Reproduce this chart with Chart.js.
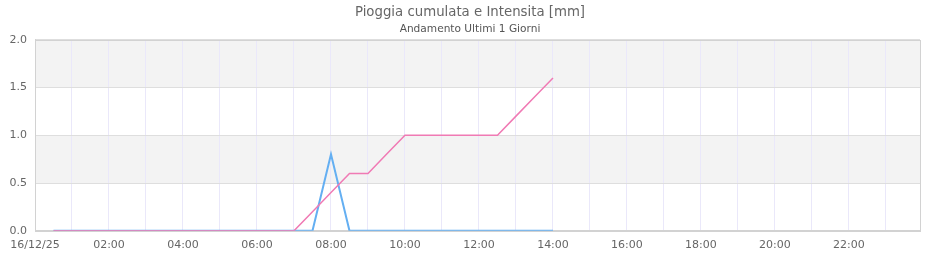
<!DOCTYPE html>
<html>
<head>
<meta charset="utf-8">
<script src="https://cdn.jsdelivr.net/npm/chart.js@4/dist/chart.umd.min.js"></script>
<style>
  html, body { margin: 0; padding: 0; background: #fff; }
</style>
</head>
<body>
<canvas id="grafico" width="940" height="260"></canvas>
<script>
// Dati: campioni ogni 30 minuti
const orari = ['00:30', '01:00', '01:30', '02:00', '02:30', '03:00', '03:30', '04:00', '04:30', '05:00',
    '05:30', '06:00', '06:30', '07:00', '07:30', '08:00', '08:30', '09:00', '09:30', '10:00',
    '10:30', '11:00', '11:30', '12:00', '12:30', '13:00', '13:30', '14:00'];
const pioggiaCumulata = [0, 0, 0, 0, 0, 0, 0, 0, 0, 0,
    0, 0, 0, 0, 0.2, 0.4, 0.6, 0.6, 0.8, 1.0,
    1.0, 1.0, 1.0, 1.0, 1.0, 1.2, 1.4, 1.6];
const intensita = [0, 0, 0, 0, 0, 0, 0, 0, 0, 0,
    0, 0, 0, 0, 0, 0.8, 0, 0, 0, 0,
    0, 0, 0, 0, 0, 0, 0, 0];
const primaEtichetta = '16/12/25';
const titolo = 'Pioggia cumulata e Intensita [mm]';
const sottotitolo = 'Andamento Ultimi 1 Giorni';

// conversione "hh:mm" -> ore decimali
function inOre(s) {
    const p = s.split(':');
    return parseInt(p[0]) + parseInt(p[1]) / 60;
}
function punti(valori) {
    return valori.map(function (v, i) { return { x: inOre(orari[i]), y: v }; });
}

// bande alternate grigie dietro la griglia + bordo
const bande = {
    id: 'bande',
    beforeDraw(chart) {
        const ctx = chart.ctx;
        const a = chart.chartArea;
        const y = chart.scales.y;
        ctx.save();
        ctx.fillStyle = 'rgb(243,243,243)';
        [[1.5, 2.0], [0.5, 1.0]].forEach(function (b) {
            const top = y.getPixelForValue(b[1]);
            const bot = y.getPixelForValue(b[0]);
            ctx.fillRect(a.left, top, a.right - a.left, bot - top);
        });
        ctx.restore();
    },
    afterDatasetsDraw(chart) {
        const ctx = chart.ctx;
        const a = chart.chartArea;
        ctx.save();
        ctx.strokeStyle = 'rgb(210,210,210)';
        ctx.lineWidth = 1;
        ctx.strokeRect(Math.round(a.left) + 0.5, Math.round(a.top) + 0.5,
            Math.round(a.right - a.left), Math.round(a.bottom - a.top));
        ctx.restore();
    }
};

const font = { family: 'DejaVu Sans', size: 11 };

new Chart(document.getElementById('grafico'), {
    type: 'line',
    data: {
        datasets: [{
            label: 'Pioggia cumulata',
            data: punti(pioggiaCumulata),
            borderColor: 'rgb(240,122,180)',
            borderWidth: 1.5,
            pointRadius: 0,
            tension: 0
        }, {
            label: 'Intensita',
            data: punti(intensita),
            borderColor: 'rgb(100,175,242)',
            borderWidth: 2,
            pointRadius: 0,
            tension: 0
        }]
    },
    options: {
        responsive: false,
        animation: false,
        devicePixelRatio: 1,
        layout: { padding: { left: 10, right: 10, top: 0, bottom: 0 } },
        plugins: {
            legend: { display: false },
            tooltip: { enabled: false },
            title: {
                display: true,
                text: titolo,
                color: '#666',
                font: { family: 'DejaVu Sans', size: 13.3, weight: 'normal' },
                padding: { top: 5, bottom: 2 }
            },
            subtitle: {
                display: true,
                text: sottotitolo,
                color: '#555',
                font: { family: 'DejaVu Sans', size: 10.6 },
                padding: { top: 0, bottom: 4 }
            }
        },
        scales: {
            x: {
                type: 'linear',
                min: 0,
                max: 23.92,
                grid: { color: 'rgb(234,232,250)', drawTicks: false },
                border: { color: 'rgb(210,210,210)' },
                ticks: {
                    stepSize: 1,
                    autoSkip: false,
                    maxRotation: 0,
                    includeBounds: false,
                    padding: 8,
                    color: '#666',
                    font: font,
                    callback: function (v) {
                        if (v === 0) return primaEtichetta;
                        if (v % 2 !== 0) return '';
                        return (v < 10 ? '0' : '') + v + ':00';
                    }
                }
            },
            y: {
                min: 0,
                max: 2,
                afterFit: function (scale) { scale.width = 25; },
                grid: { color: 'rgb(222,222,222)', drawTicks: false },
                border: { color: 'rgb(210,210,210)' },
                ticks: {
                    stepSize: 0.5,
                    padding: 8,
                    color: '#666',
                    font: font,
                    callback: function (v) { return v.toFixed(1); }
                }
            },
            // asse vuoto a destra solo per lasciare margine
            margineDx: {
                type: 'linear',
                position: 'right',
                afterFit: function (scale) { scale.width = 10; },
                grid: { display: false },
                border: { display: false },
                ticks: { display: false }
            }
        }
    },
    plugins: [bande]
});
</script>
</body>
</html>
